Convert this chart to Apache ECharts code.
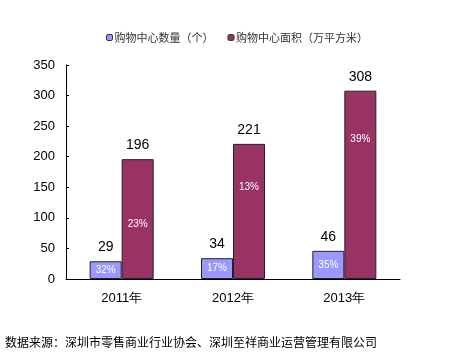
<!DOCTYPE html>
<html><head><meta charset="utf-8">
<script src="https://cdn.jsdelivr.net/npm/echarts@6/dist/echarts.min.js"></script>
<style>html,body{margin:0;padding:0;background:#fff}#c{width:449px;height:361px}</style>
</head><body><div id="c"></div>
<script>
var categories = ['2011年', '2012年', '2013年'];
var countValues = [29, 34, 46];
var areaValues = [196, 221, 308];
var countPct = ['32%', '17%', '35%'];
var areaPct = ['23%', '13%', '39%'];
var yTicks = [0, 50, 100, 150, 200, 250, 300, 350];
var seriesNames = ['购物中心数量（个）', '购物中心面积（万平方米）'];
var sourceText = '数据来源：深圳市零售商业行业协会、深圳至祥商业运营管理有限公司';

var chart = echarts.init(document.getElementById('c'), null, {renderer: 'canvas'});
var areaPctDist = [60, 38, 44];
var numFont = '"Liberation Sans", Arial, sans-serif';
chart.setOption({
  animation: false,
  backgroundColor: '#fff',
  legend: {
    top: 27, left: 101, itemWidth: 6, itemHeight: 6, itemGap: 14,
    data: [
      {name: seriesNames[0], itemStyle: {color: '#9999FF', borderColor: '#333', borderWidth: 1}},
      {name: seriesNames[1], itemStyle: {color: '#993366', borderColor: '#333', borderWidth: 1}}
    ],
    textStyle: {fontSize: 11, color: '#333', padding: [0, 0, 0, -3], fontFamily: '"Noto Sans CJK SC", sans-serif'}
  },
  grid: {left: 66, right: 49, top: 65, bottom: 82, containLabel: false},
  xAxis: [{
    type: 'category', data: categories,
    axisLine: {lineStyle: {color: '#000', width: 1}},
    axisTick: {inside: true, length: 4, lineStyle: {color: '#000'}},
    axisLabel: {fontSize: 13, color: '#000', margin: 13, fontFamily: numFont}
  }, {
    type: 'category', data: categories, show: false
  }],
  yAxis: {
    type: 'value', min: 0, max: 350, interval: 50,
    axisLine: {show: true, lineStyle: {color: '#000', width: 1}},
    axisTick: {show: true, inside: true, length: 3, lineStyle: {color: '#000'}},
    splitLine: {show: false},
    axisLabel: {fontSize: 13, color: '#000', margin: 11, fontFamily: numFont,
      formatter: function (v) { return yTicks.indexOf(v) >= 0 ? String(v) : ''; }}
  },
  graphic: [{
    type: 'text', left: 5, top: 336,
    style: {text: sourceText, fontSize: 12, fill: '#000', fontFamily: '"Noto Sans CJK SC", sans-serif'}
  }],
  series: [{
    name: seriesNames[0], type: 'bar', xAxisIndex: 0, data: countValues,
    barWidth: 32, barGap: '0%',
    itemStyle: {color: '#9999FF', borderColor: '#222', borderWidth: 1},
    label: {show: true, position: 'top', distance: 7, fontSize: 14, color: '#000', fontFamily: numFont}
  }, {
    name: seriesNames[1], type: 'bar', xAxisIndex: 0, data: areaValues,
    barWidth: 32, barGap: '0%',
    itemStyle: {color: '#993366', borderColor: '#222', borderWidth: 1},
    label: {show: true, position: 'top', distance: 7, fontSize: 14, color: '#000', fontFamily: numFont}
  }, {
    name: 'p1', type: 'bar', xAxisIndex: 1, barWidth: 32, barGap: '0%',
    data: countValues.map(function (v, i) { return {value: v, pct: countPct[i]}; }),
    itemStyle: {color: 'rgba(0,0,0,0)'}, silent: true, z: 5,
    label: {show: true, position: 'inside', fontSize: 10, color: '#fff', fontFamily: numFont,
      formatter: function (p) { return countPct[p.dataIndex]; }}
  }, {
    name: 'p2', type: 'bar', xAxisIndex: 1, barWidth: 32, barGap: '0%',
    data: areaValues.map(function (v, i) {
      return {value: v, label: {position: 'insideTop', distance: areaPctDist[i]}};
    }),
    itemStyle: {color: 'rgba(0,0,0,0)'}, silent: true, z: 5,
    label: {show: true, fontSize: 10, color: '#fff', fontFamily: numFont,
      formatter: function (p) { return areaPct[p.dataIndex]; }}
  }]
});
</script></body></html>
